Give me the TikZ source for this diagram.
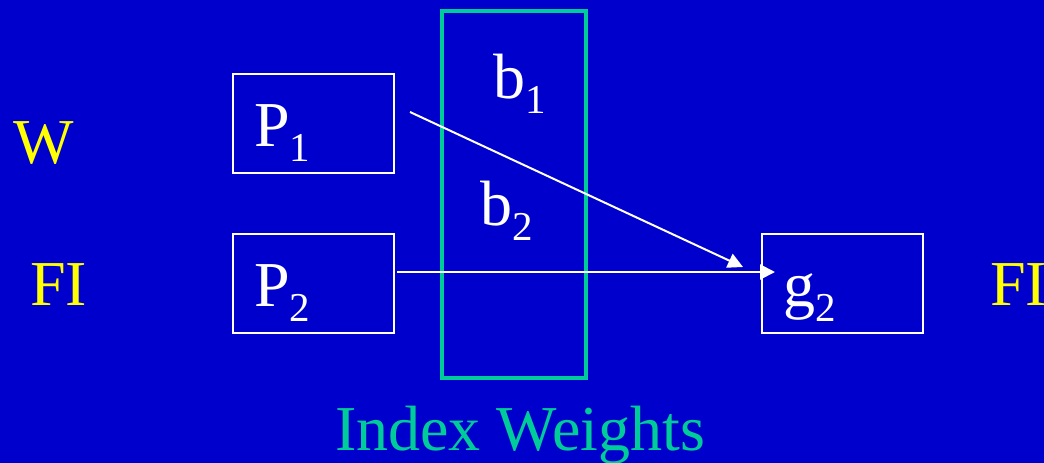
\documentclass[tikz,border=0pt]{standalone}
\usepackage{fontspec}
\setmainfont{Liberation Serif}
\usetikzlibrary{arrows.meta,calc}
\definecolor{bgblue}{RGB}{0,0,204}
\definecolor{iwgreen}{RGB}{0,204,153}
\definecolor{lblyellow}{RGB}{255,255,0}
\newcommand{\bigtxt}{\fontsize{64}{64}\selectfont}
\newcommand{\sbs}[1]{\raisebox{-15pt}{\fontsize{41}{41}\selectfont #1}}
\tikzset{
  wbox/.style={draw=white, line width=2pt, minimum width=161pt, minimum height=99pt, inner sep=0pt, outer sep=0pt, anchor=north west},
  gbox/.style={draw=iwgreen, line width=4pt, minimum width=144pt, minimum height=367.5pt, inner sep=0pt, outer sep=0pt, anchor=north west},
  txt/.style={text=white, font=\bigtxt, inner sep=0pt, anchor=base west},
  ylw/.style={text=lblyellow, font=\bigtxt, inner sep=0pt, anchor=base west},
  grn/.style={text=iwgreen, font=\bigtxt, inner sep=0pt, anchor=base west},
  conn/.style={draw=white, line width=2pt, -{Triangle[length=15pt,width=15pt]}}
}
\begin{document}
\begin{tikzpicture}[x=1pt,y=-1pt]
\useasboundingbox (0,0) rectangle (1044,463);
\fill[bgblue] (0,0) rectangle (1044,463);
\clip (0,0) rectangle (1044,463);
% boxes
\node[wbox] (p1) at (233,74) {};
\node[wbox] (p2) at (233,234) {};
\node[wbox] (g2) at (762,234) {};
\node[gbox] (iw) at (442,10.5) {};
% labels
\node[txt] (lp1) at (254,146) {P\sbs{1}};
\node[txt] (lp2) at (254,306) {P\sbs{2}};
\node[txt] (lg2) at (783,306) {g\sbs{2}};
\node[txt] (lb1) at (493,98) {b\sbs{1}};
\node[txt] (lb2) at (480,225) {b\sbs{2}};
\node[ylw] (w) at (13,163) {W};
\node[ylw] (fil) at (30,305) {FI};
\node[ylw] (fir) at (990,305) {FI};
\node[grn] (iwl) at (335,450) {Index Weights};
% connectors
\coordinate (s1) at ($(p1.east)+(16,-11.5)$);
\coordinate (e1) at ($(g2.west)+(-19,-16.5)$);
\coordinate (s2) at ($(p2.east)+(3,-11.5)$);
\coordinate (e2) at ($(g2.west)+(13,-11.5)$);
\draw[conn] (s1) -- (e1);
\draw[conn] (s2) -- (e2);
\end{tikzpicture}
\end{document}
